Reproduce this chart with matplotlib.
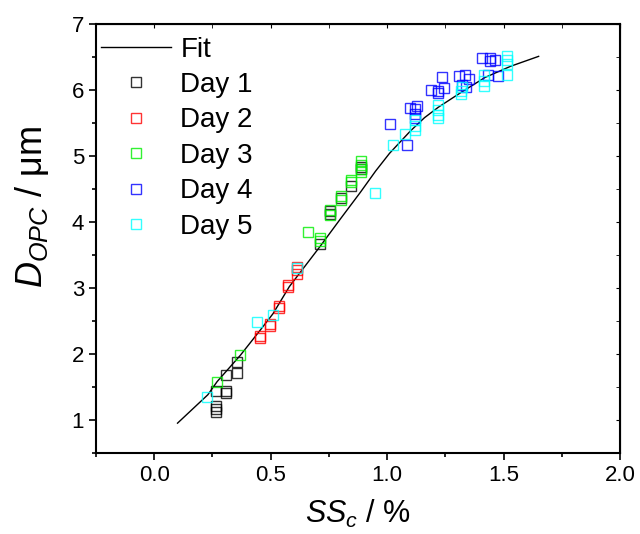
import matplotlib
matplotlib.use("Agg")
import matplotlib.pyplot as plt
from matplotlib.ticker import MultipleLocator

plt.rcParams['font.family'] = ['Liberation Sans', 'DejaVu Sans']
plt.rcParams['mathtext.fontset'] = 'custom'
plt.rcParams['mathtext.rm'] = 'Liberation Sans'
plt.rcParams['mathtext.it'] = 'Liberation Sans:italic'

# fit curve
fit_x = [0.10, 0.23, 0.27, 0.37, 0.455, 0.51, 0.58, 0.71, 0.80, 0.885,
         0.95, 1.01, 1.10, 1.16, 1.22, 1.32, 1.42, 1.53, 1.65]
fit_y = [0.95, 1.38, 1.58, 1.98, 2.36, 2.61, 3.02, 3.62, 4.05, 4.45,
         4.77, 5.04, 5.38, 5.58, 5.74, 5.97, 6.19, 6.36, 6.51]

day1_x = [0.265, 0.265, 0.265, 0.265, 0.31, 0.31, 0.31, 0.356, 0.356,
          0.713, 0.754, 0.754, 0.80, 0.846, 0.889, 0.889]
day1_y = [1.12, 1.16, 1.21, 1.44, 1.40, 1.43, 1.675, 1.71, 1.88,
          3.66, 4.12, 4.16, 4.37, 4.55, 4.80, 4.84]

day2_x = [0.455, 0.455, 0.497, 0.497, 0.537, 0.537, 0.576, 0.576, 0.612, 0.612, 0.612]
day2_y = [2.24, 2.27, 2.42, 2.45, 2.69, 2.72, 3.02, 3.04, 3.21, 3.27, 3.32]

day3_x = [0.27, 0.368, 0.659, 0.713, 0.713, 0.754, 0.754, 0.80, 0.80,
          0.846, 0.846, 0.889, 0.889, 0.889, 0.889]
day3_y = [1.57, 1.98, 3.85, 3.71, 3.75, 4.10, 4.18, 4.33, 4.40,
          4.61, 4.64, 4.76, 4.81, 4.86, 4.93]

day4_x = [1.014, 1.083, 1.10, 1.12, 1.13, 1.12, 1.12, 1.187, 1.218, 1.218,
          1.244, 1.234, 1.31, 1.333, 1.35, 1.319, 1.339, 1.407, 1.441,
          1.464, 1.431, 1.474, 1.44]
day4_y = [5.49, 5.16, 5.72, 5.71, 5.75, 5.58, 5.64, 6.00, 5.99, 5.95,
          6.03, 6.19, 6.21, 6.23, 6.17, 6.07, 6.04, 6.48, 6.48,
          6.46, 6.23, 6.21, 6.44]

day5_x = [0.226, 0.442, 0.51, 0.612, 0.948, 1.026, 1.075, 1.12, 1.12, 1.12,
          1.22, 1.22, 1.22, 1.22, 1.317, 1.317, 1.32, 1.416, 1.416, 1.416,
          1.513, 1.513, 1.513, 1.513]
day5_y = [1.35, 2.49, 2.59, 3.30, 4.44, 5.16, 5.33, 5.40, 5.46, 5.54,
          5.57, 5.62, 5.69, 5.77, 5.94, 5.99, 6.05, 6.06, 6.14, 6.22,
          6.22, 6.40, 6.46, 6.51]

days = [(day1_x, day1_y, 'black', 'Day 1'),
        (day2_x, day2_y, 'red', 'Day 2'),
        (day3_x, day3_y, '#00ee00', 'Day 3'),
        (day4_x, day4_y, 'blue', 'Day 4'),
        (day5_x, day5_y, 'cyan', 'Day 5')]

fig = plt.figure(figsize=(6.4, 5.34), dpi=100)
ax = fig.add_axes([0.15, 0.152, 0.819, 0.803])

ax.plot(fit_x, fit_y, color='black', lw=1, label='Fit')
for xs, ys, c, lab in days:
    ax.plot(xs, ys, ls='none', marker='s', ms=7, mfc='none', mec=c,
            mew=1, alpha=0.8, label=lab)

ax.set_xlim(-0.25, 2.0)
ax.set_ylim(0.5, 7)
ax.xaxis.set_major_locator(MultipleLocator(0.5))
ax.xaxis.set_minor_locator(MultipleLocator(0.25))
ax.yaxis.set_major_locator(MultipleLocator(1))
ax.yaxis.set_minor_locator(MultipleLocator(0.5))
ax.tick_params(which='both', direction='out', labelsize=16, width=1.2)
ax.tick_params(which='major', length=5)
ax.tick_params(which='minor', length=3)
for s in ax.spines.values():
    s.set_linewidth(1.5)

top = ax.secondary_xaxis('top')
top.xaxis.set_major_locator(MultipleLocator(0.5))
top.xaxis.set_minor_locator(MultipleLocator(0.25))
top.tick_params(which='both', direction='in', labeltop=False, length=3)
right = ax.secondary_yaxis('right')
right.yaxis.set_major_locator(MultipleLocator(1))
right.yaxis.set_minor_locator(MultipleLocator(0.5))
right.tick_params(which='both', direction='in', labelright=False, length=3)

ax.set_xlabel('$SS_c$ / %', fontsize=22, labelpad=9)
ax.set_ylabel('$D_{OPC}$ / μm', fontsize=26)
ax.yaxis.set_label_coords(-0.085, 0.575)

ax.legend(loc='upper left', bbox_to_anchor=(-0.014, 1.0), frameon=False,
          fontsize=20, handlelength=2.5, labelspacing=0.34, borderaxespad=0.0,
          borderpad=0.45, handletextpad=0.35)

fig.savefig('out.png', dpi=100)
